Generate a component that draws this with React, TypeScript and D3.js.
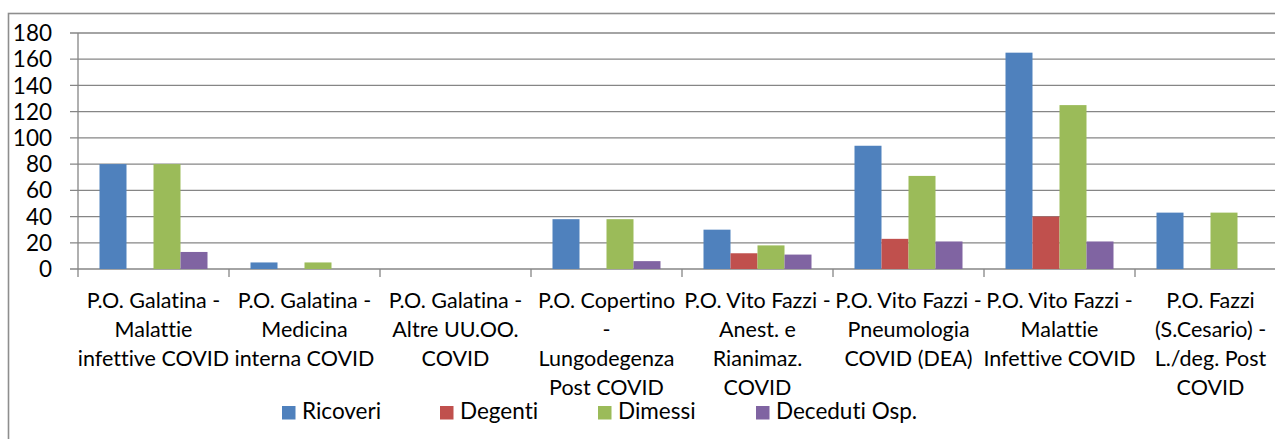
import React from "react";
import * as d3 from "d3";

const categories: string[][] = [
  ["P.O. Galatina -", "Malattie", "infettive COVID"],
  ["P.O. Galatina -", "Medicina", "interna COVID"],
  ["P.O. Galatina -", "Altre UU.OO.", "COVID"],
  ["P.O. Copertino", "-", "Lungodegenza", "Post COVID"],
  ["P.O. Vito Fazzi -", "Anest. e", "Rianimaz.", "COVID"],
  ["P.O. Vito Fazzi -", "Pneumologia", "COVID (DEA)"],
  ["P.O. Vito Fazzi -", "Malattie", "Infettive COVID"],
  ["P.O. Fazzi", "(S.Cesario) -", "L./deg. Post", "COVID"],
];
const seriesNames = ["Ricoveri", "Degenti", "Dimessi", "Deceduti Osp."];
const ricoveri = [80, 5, 0, 38, 30, 94, 165, 43];
const degenti = [0, 0, 0, 0, 12, 23, 40, 0];
const dimessi = [80, 5, 0, 38, 18, 71, 125, 43];
const deceduti = [13, 0, 0, 6, 11, 21, 21, 0];
const yTicks = [0, 20, 40, 60, 80, 100, 120, 140, 160, 180];
const colors = ["#4F81BD", "#C0504D", "#9BBB59", "#8064A2"];

const W = 1275;
const H = 439;
const FONT = "Lato, 'Liberation Sans', sans-serif";

export default function App() {
  const series = [ricoveri, degenti, dimessi, deceduti];
  const x0 = 78;
  const catW = 151;
  const x = d3
    .scaleBand<number>()
    .domain(d3.range(categories.length))
    .range([x0, x0 + catW * categories.length]);
  const barW = 27;
  const inner = d3
    .scaleBand<number>()
    .domain(d3.range(series.length))
    .range([21.5, 21.5 + barW * series.length]);
  const y = d3.scaleLinear().domain([0, 180]).range([269, 33]);
  const gridColor = "#868686";
  const fs = 22;

  return (
    <svg width={W} height={H} style={{ position: "absolute", left: 0, top: 0, background: "#fff", fontVariantLigatures: "none" }} fontFamily={FONT}>
      <rect x={8.5} y={13.5} width={1400} height={600} fill="#fff" stroke="#8e8e8e" strokeWidth={1.6} />
      {yTicks.map((t) => (
        <g key={t}>
          <line x1={70} x2={W} y1={y(t)} y2={y(t)} stroke={gridColor} strokeWidth={1.3} />
          <text x={52} y={y(t)} dy="0.36em" textAnchor="end" fontSize={fs + 0.5} fill="#000">
            {t}
          </text>
        </g>
      ))}
      <line x1={x0} x2={x0} y1={y(180)} y2={y(0)} stroke={gridColor} strokeWidth={1.3} />
      {d3.range(categories.length + 1).map((i) => (
        <line key={i} x1={x0 + i * catW} x2={x0 + i * catW} y1={y(0)} y2={y(0) + 8} stroke={gridColor} strokeWidth={1.3} />
      ))}
      {series.map((vals, si) =>
        vals.map((v, ci) =>
          v > 0 ? (
            <rect
              key={`${si}-${ci}`}
              x={(x(ci) as number) + (inner(si) as number)}
              y={y(v)}
              width={inner.bandwidth()}
              height={y(0) - y(v)}
              fill={colors[si]}
            />
          ) : null
        )
      )}
      {categories.map((lines, ci) => (
        <text key={ci} textAnchor="middle" fontSize={fs - 0.5} fill="#000">
          {lines.map((ln, li) => (
            <tspan key={li} x={(x(ci) as number) + x.bandwidth() / 2} y={308 + li * 29}>
              {ln}
            </tspan>
          ))}
        </text>
      ))}
      {seriesNames.map((name, si) => (
        <g key={name} transform={`translate(${282 + si * 158},0)`}>
          <rect x={0} y={406} width={13.5} height={13.5} fill={colors[si]} />
          <text x={20} y={419} fontSize={fs + 0.5} fill="#000">
            {name}
          </text>
        </g>
      ))}
    </svg>
  );
}
